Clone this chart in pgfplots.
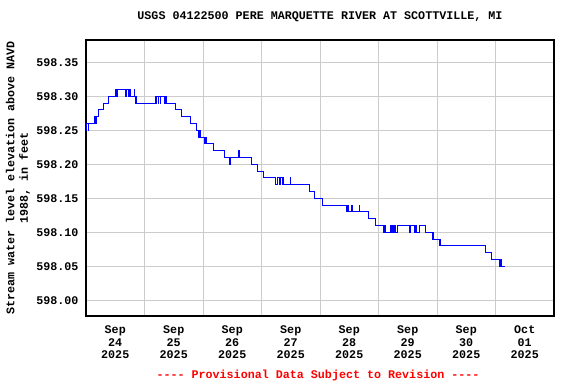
\documentclass[border=0pt]{standalone}
\usepackage{fontspec}
\setmainfont{Liberation Mono}
\usepackage{pgfplots}
\usepackage{pgfplotstable}
\pgfplotsset{compat=1.18}
\definecolor{gridgray}{RGB}{204,204,204}
\definecolor{usgsblue}{RGB}{0,0,255}
\definecolor{usgsred}{RGB}{255,0,0}
\newcommand{\fourdash}{\hbox{-}\hbox{-}\hbox{-}\hbox{-}}
\pgfplotstableread{
t v
0.000 598.26
0.007 598.25
0.017 598.26
0.041 598.25
0.049 598.26
0.148 598.27
0.160 598.26
0.172 598.27
0.216 598.28
0.302 598.29
0.387 598.30
0.501 598.31
0.518 598.30
0.530 598.31
0.676 598.30
0.700 598.31
0.734 598.30
0.744 598.31
0.768 598.30
0.830 598.31
0.836 598.30
0.847 598.29
0.859 598.30
0.871 598.29
1.194 598.30
1.204 598.29
1.211 598.30
1.239 598.29
1.245 598.30
1.273 598.29
1.279 598.30
1.336 598.29
1.365 598.30
1.370 598.29
1.535 598.28
1.637 598.27
1.790 598.26
1.881 598.25
1.927 598.24
1.944 598.25
1.954 598.24
2.034 598.23
2.051 598.24
2.063 598.23
2.175 598.22
2.363 598.21
2.448 598.20
2.472 598.21
2.613 598.22
2.630 598.21
2.830 598.20
2.925 598.19
3.027 598.18
3.244 598.17
3.266 598.18
3.312 598.17
3.329 598.18
3.351 598.17
3.363 598.18
3.375 598.17
3.494 598.18
3.504 598.17
3.823 598.16
3.906 598.15
4.049 598.14
4.453 598.13
4.465 598.14
4.482 598.13
4.538 598.14
4.550 598.13
4.670 598.14
4.680 598.13
4.833 598.12
4.947 598.11
5.083 598.10
5.101 598.11
5.112 598.10
5.203 598.11
5.215 598.10
5.237 598.11
5.249 598.10
5.271 598.11
5.288 598.10
5.317 598.11
5.538 598.10
5.549 598.11
5.612 598.10
5.629 598.11
5.646 598.10
5.698 598.11
5.811 598.10
5.923 598.09
5.935 598.10
5.947 598.09
6.037 598.08
6.049 598.09
6.060 598.08
6.833 598.07
6.935 598.06
7.060 598.05
7.077 598.06
7.089 598.05
7.099 598.06
7.106 598.05
7.157 598.05
}\stage
\begin{document}
\begin{tikzpicture}
\begin{axis}[
  scale only axis,
  width=468pt, height=276pt,
  xmin=0, xmax=8,
  ymin=597.9769, ymax=598.3828,
  font=\bfseries\fontsize{11.7}{12.7}\selectfont,
  /pgf/number format/assume math mode=true,
  axis line style={line width=1.3pt, black},
  major tick length=0pt, minor tick length=0pt,
  xtick={0.5,1.5,2.5,3.5,4.5,5.5,6.5,7.5},
  xticklabels={{Sep\\24\\2025},{Sep\\25\\2025},{Sep\\26\\2025},{Sep\\27\\2025},{Sep\\28\\2025},{Sep\\29\\2025},{Sep\\30\\2025},{Oct\\01\\2025}},
  xticklabel style={align=center, yshift=-6pt, font=\bfseries\fontsize{11.7}{12.7}\selectfont},
  minor xtick={1,2,3,4,5,6,7},
  xminorgrids=true, xmajorgrids=false,
  ytick={598.00,598.05,598.10,598.15,598.20,598.25,598.30,598.35},
  yticklabels={598.00,598.05,598.10,598.15,598.20,598.25,598.30,598.35},
  yticklabel style={xshift=-4pt, font=\bfseries\fontsize{11.7}{12.7}\selectfont},
  ymajorgrids=true,
  grid style={gridgray, line width=0.9pt},
  minor grid style={gridgray, line width=0.9pt},
  title={USGS 04122500 PERE MARQUETTE RIVER AT SCOTTVILLE, MI},
  title style={at={(axis description cs:0.5,1)}, anchor=base, yshift=15pt, font=\bfseries\fontsize{11.7}{12.7}\selectfont},
  ylabel={Stream water level elevation above NAVD\\1988, in feet},
  ylabel style={at={([xshift=-68pt]axis description cs:0,0.5)}, anchor=center, align=center, font=\bfseries\fontsize{11.7}{13.4}\selectfont},
  clip=true,
]
\addplot[const plot, usgsblue, line width=1pt] table[x=t, y=v] {\stage};
\coordinate (sw) at (rel axis cs:0,0);
\end{axis}
\node[anchor=base, text=usgsred, font=\bfseries\fontsize{11.7}{12.7}\selectfont] at ([shift={(232pt,-62pt)}]sw) {\fourdash{} Provisional Data Subject to Revision \fourdash};
\pgfresetboundingbox
\path ([shift={(-86pt,-68pt)}]sw) rectangle ++(576pt,384pt);
\end{tikzpicture}
\end{document}
